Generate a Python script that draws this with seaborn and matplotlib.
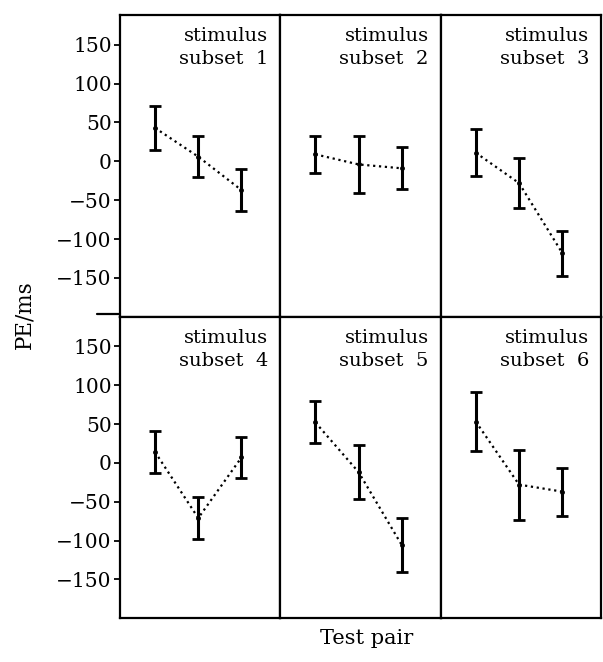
import pandas as pd
import matplotlib.pyplot as plt
import seaborn as sns
from matplotlib.lines import Line2D

sns.set_theme(style="ticks", rc={"text.color": "black"})
plt.rcParams['font.family'] = ['DejaVu Serif']

# values (PE in ms, +/- error bar half length)
subsets = [1, 2, 3, 4, 5, 6]
test_pairs = [1, 2, 3]
pe_means = [
    [43, 6, -37],
    [9, -4, -9],
    [11, -28, -118],
    [14, -71, 7],
    [52, -12, -106],
    [53, -28, -37],
]
pe_errors = [
    [28, 26, 27],
    [24, 37, 27],
    [30, 32, 29],
    [27, 27, 26],
    [27, 35, 35],
    [38, 45, 31],
]
y_ticks = [-150, -100, -50, 0, 50, 100, 150]

rows = []
for s, means, errs in zip(subsets, pe_means, pe_errors):
    for p, m, e in zip(test_pairs, means, errs):
        rows.append({"subset": s, "pair": p, "pe": m, "err": e})
df = pd.DataFrame(rows)


def draw_subset(data, **kws):
    ax = plt.gca()
    sns.lineplot(data=data, x="pair", y="pe", ax=ax, color="black",
                 linestyle=":", linewidth=1.6, marker="o", markersize=3.5,
                 markeredgewidth=0)
    ax.errorbar(data["pair"], data["pe"], yerr=data["err"], fmt="none",
                ecolor="black", elinewidth=2.2, capsize=4, capthick=2)
    s = data["subset"].iloc[0]
    ax.text(0.925, 0.96, f"stimulus\nsubset  {s}", transform=ax.transAxes,
            ha="right", va="top", fontsize=14, linespacing=1.35,
            color="black")


g = sns.FacetGrid(df, col="subset", col_wrap=3, sharex=True, sharey=True,
                  height=3, aspect=0.55, despine=False)
g.map_dataframe(draw_subset)
g.set_titles("")
g.set_axis_labels("", "")

fig = g.figure
fig.set_size_inches(6.03, 6.62)
fig.subplots_adjust(left=0.199, right=0.997, top=0.977, bottom=0.066,
                    wspace=0, hspace=0)

for i, ax in enumerate(g.axes.flat):
    ax.set_xlim(0.19, 3.9)
    ax.set_ylim(-200, 188)
    ax.set_xticks([])
    ax.set_yticks(y_ticks)
    for sp in ax.spines.values():
        sp.set_linewidth(1.6)
        sp.set_color("black")
    if i % 3 == 0:
        ax.tick_params(axis="y", direction="out", length=4, width=1.3,
                       labelsize=14.5, pad=2, colors="black")
    else:
        ax.tick_params(axis="y", left=False, labelleft=False)

# row divider runs a little past the left frame
fig.add_artist(Line2D([97 / 603, 120 / 603], [1 - 314 / 662, 1 - 314 / 662],
                      color="black", linewidth=1.6))

fig.text(24 / 603, 1 - 315 / 662, "PE/ms", rotation=90, ha="center",
         va="center", fontsize=15.5, color="black")
fig.text(367 / 603, 1 - 638 / 662, "Test pair", ha="center", va="center",
         fontsize=15, color="black")

fig.savefig("out.png", dpi=100)
